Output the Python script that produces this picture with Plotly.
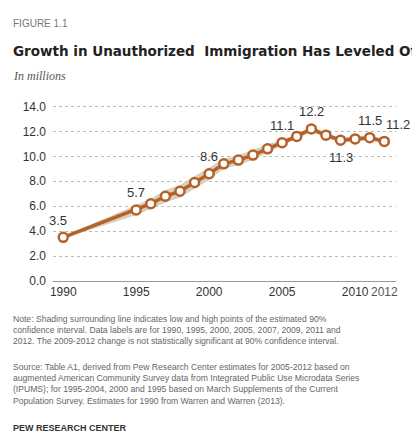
import plotly.graph_objects as go

years = [1990, 1995, 1996, 1997, 1998, 1999, 2000, 2001, 2002, 2003, 2004,
         2005, 2006, 2007, 2008, 2009, 2010, 2011, 2012]
values = [3.5, 5.7, 6.2, 6.8, 7.2, 7.9, 8.6, 9.4, 9.7, 10.1, 10.6,
          11.1, 11.6, 12.2, 11.7, 11.3, 11.4, 11.5, 11.2]
low = [3.4, 5.3, 5.8, 6.3, 6.7, 7.4, 8.1, 9.0, 9.3, 9.7, 10.3,
       10.9, 11.4, 12.0, 11.5, 11.1, 11.2, 11.3, 11.0]
high = [3.6, 6.1, 6.6, 7.3, 7.7, 8.4, 9.1, 9.8, 10.1, 10.5, 11.0,
        11.3, 11.8, 12.4, 11.9, 11.5, 11.6, 11.7, 11.4]
labeled = {1990: "top", 1995: "top", 2000: "top", 2005: "top", 2007: "top",
           2009: "bottom", 2011: "top", 2012: "top right"}

brown = "#b5622a"
fig = go.Figure()
fig.add_trace(go.Scatter(x=years + years[::-1], y=high + low[::-1], fill="toself",
                         fillcolor="#d6d0bd", line=dict(width=0), hoverinfo="skip"))
fig.add_trace(go.Scatter(x=years, y=values, mode="lines+markers",
                         line=dict(color=brown, width=3.5),
                         marker=dict(size=9, color="white", line=dict(color=brown, width=2.5))))
for y, v in zip(years, values):
    if y in labeled:
        pos = labeled[y]
        fig.add_annotation(x=y, y=v, text=f"{v:.1f}", showarrow=False,
                           yshift=-17 if pos == "bottom" else 17,
                           xshift=14 if pos == "top right" else (-5 if y == 1990 else 0),
                           font=dict(size=13, color="#333"))

ft = "Liberation Sans"
top, bottom, H = 96, 170, 443
plot_h = H - top - bottom
fig.update_layout(
    width=420, height=443, showlegend=False, plot_bgcolor="white", paper_bgcolor="white",
    margin=dict(l=45, r=32, t=top, b=bottom), font=dict(family=ft, size=12, color="#333"),
    xaxis=dict(range=[1989.3, 2012.8], tickvals=[1990, 1995, 2000, 2005, 2010, 2012],
               ticktext=["1990", "1995", "2000", "2005", "2010", "<span style='color:#555'>2012</span>"],
               showgrid=False, showline=True, linecolor="#999", ticks="", tickfont=dict(size=12)),
    yaxis=dict(range=[0, 14.2], tickvals=[0, 2, 4, 6, 8, 10, 12, 14], tickformat=".1f",
               gridcolor="#bbb", griddash="dot", zeroline=False, tickfont=dict(size=12),
               ticklabelstandoff=6),
)
texts = [
    (8, "FIGURE 1.1", dict(size=10, color="#777")),
    (33, "<b>Growth in Unauthorized  Immigration Has Leveled Off</b>", dict(size=13.5, color="#222", family="DejaVu Sans")),
    (59, "<i>In millions</i>", dict(size=12, color="#555", family="Liberation Serif")),
    (304, "Note: Shading surrounding line indicates low and high points of the estimated 90%<br>confidence interval. Data labels are for 1990, 1995, 2000, 2005, 2007, 2009, 2011 and<br>2012. The 2009-2012 change is not statistically significant at 90% confidence interval.", dict(size=8.6, color="#666")),
    (352, "Source: Table A1, derived from Pew Research Center estimates for 2005-2012 based on<br>augmented American Community Survey data from Integrated Public Use Microdata Series<br>(IPUMS); for 1995-2004, 2000 and 1995 based on March Supplements of the Current<br>Population Survey. Estimates for 1990 from Warren and Warren (2013).", dict(size=8.6, color="#666")),
    (413, "<b>PEW RESEARCH CENTER</b>", dict(size=9, color="#333")),
]
for ypx, t, f in texts:
    fig.add_annotation(xref="paper", yref="paper", x=0, xshift=-42,
                       y=(H - bottom - ypx) / plot_h,
                       text=t, showarrow=False, xanchor="left", yanchor="top", align="left",
                       font=f)
fig.write_html("out.html")
